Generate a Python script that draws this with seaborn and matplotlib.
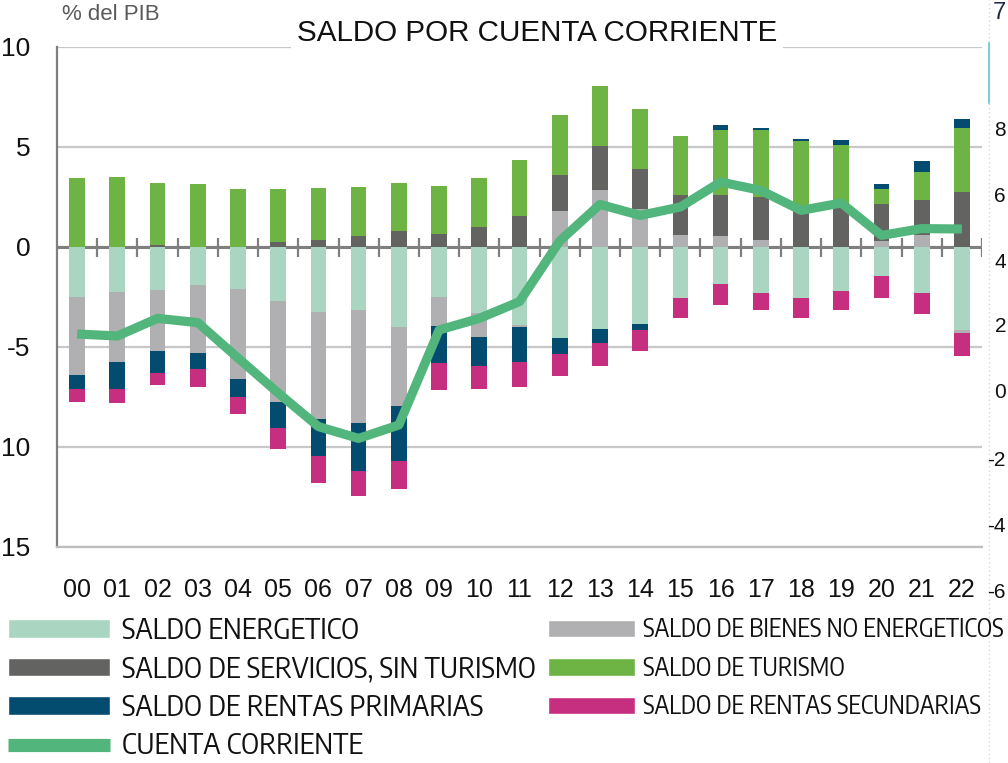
import numpy as np
import pandas as pd
import matplotlib
matplotlib.use("Agg")
import matplotlib.pyplot as plt
import seaborn as sns
from matplotlib.patches import Patch
from matplotlib.lines import Line2D
from matplotlib import font_manager as fm
from matplotlib.textpath import TextPath

# ---------------- data (% del PIB) ----------------
years = ['00', '01', '02', '03', '04', '05', '06', '07', '08', '09', '10', '11',
         '12', '13', '14', '15', '16', '17', '18', '19', '20', '21', '22']
saldo_energetico = [-2.5, -2.25, -2.15, -1.9, -2.1, -2.7, -3.27, -3.15, -4.02, -2.52, -3.32, -3.92,
                    -4.53, -4.1, -3.83, -2.53, -1.83, -2.28, -2.55, -2.2, -1.47, -2.28, -4.17]
saldo_bienes_no_energeticos = [-3.9, -3.5, -3.03, -3.42, -4.5, -5.03, -5.35, -5.63, -3.91, -1.42, -1.17, -0.1,
                               1.78, 2.87, 1.9, 0.58, 0.55, 0.33, 0.0, 0.0, 0.3, 0.6, -0.13]
saldo_servicios_sin_turismo = [0.0, 0.0, 0.1, 0.0, 0.0, 0.25, 0.37, 0.53, 0.78, 0.67, 1.0, 1.55,
                               1.84, 2.18, 2.02, 2.04, 2.07, 2.17, 2.0, 2.2, 1.87, 1.77, 2.75]
saldo_turismo = [3.45, 3.5, 3.1, 3.15, 2.9, 2.65, 2.58, 2.45, 2.4, 2.4, 2.45, 2.82,
                 3.0, 3.0, 3.0, 2.93, 3.21, 3.37, 3.28, 2.92, 0.75, 1.38, 3.22]
saldo_rentas_primarias = [-0.7, -1.35, -1.13, -0.8, -0.88, -1.33, -1.83, -2.42, -2.75, -1.88, -1.45, -1.73,
                          -0.8, -0.7, -0.34, 0.0, 0.25, 0.07, 0.14, 0.21, 0.25, 0.53, 0.41]
saldo_rentas_secundarias = [-0.66, -0.7, -0.58, -0.86, -0.87, -1.05, -1.33, -1.23, -1.42, -1.33, -1.17, -1.25,
                            -1.12, -1.15, -1.05, -1.0, -1.09, -0.85, -0.98, -0.97, -1.06, -1.05, -1.17]
cuenta_corriente = [-4.35, -4.45, -3.57, -3.78, -5.55, -7.3, -8.98, -9.57, -8.9, -4.15, -3.57, -2.73,
                    0.3, 2.13, 1.58, 2.0, 3.25, 2.83, 1.83, 2.2, 0.58, 0.92, 0.9]

y_ticks = [-15, -10, -5, 0, 5, 10]
y_ticklabels = ['15', '10', '-5', '0', '5', '10']

series_names = ['SALDO ENERGETICO', 'SALDO DE BIENES NO ENERGETICOS', 'SALDO DE SERVICIOS, SIN TURISMO',
                'SALDO DE TURISMO', 'SALDO DE RENTAS PRIMARIAS', 'SALDO DE RENTAS SECUNDARIAS']
series_vals = [saldo_energetico, saldo_bienes_no_energeticos, saldo_servicios_sin_turismo,
               saldo_turismo, saldo_rentas_primarias, saldo_rentas_secundarias]
colors = {
    'SALDO ENERGETICO': '#aad6c1',
    'SALDO DE BIENES NO ENERGETICOS': '#b0b0b2',
    'SALDO DE SERVICIOS, SIN TURISMO': '#636362',
    'SALDO DE TURISMO': '#6db444',
    'SALDO DE RENTAS PRIMARIAS': '#034c70',
    'SALDO DE RENTAS SECUNDARIAS': '#c62f7f',
}
cc_color = '#52b57c'

# ---------------- style ----------------
sns.set_theme(style="white")
plt.rcParams['font.family'] = ['Liberation Sans', 'DejaVu Sans']


def text_wh(fp, s='SALDO ENERGETICO'):
    ext = TextPath((0, 0), s, size=100, prop=fp).get_extents()
    return ext.width, ext.height


def pick_condensed_font(target_ratio=235.0 / 22.0):
    cands = []
    for f in fm.fontManager.ttflist:
        fn = f.fname.lower()
        nm = f.name.lower()
        if f.style != 'normal':
            continue
        if not ('condensed' in fn or 'narrow' in fn or 'condensed' in nm or 'narrow' in nm):
            continue
        rest = fn.replace('semicondensed', '').replace('extracondensed', '').replace('condensed', '')
        if any(b in rest for b in ('bold', 'black', 'light', 'thin', 'medium', 'italic', 'mono', 'serif', 'cjk')):
            continue
        if 'sans' not in nm and 'roboto' not in nm and 'lato' not in nm and 'inter' not in nm:
            continue
        cands.append(f.fname)
    cands = sorted(set(cands))[:40]
    best, best_err = None, None
    for fname in cands:
        try:
            fp = fm.FontProperties(fname=fname)
            wd, ht = text_wh(fp)
        except Exception:
            continue
        if ht <= 0:
            continue
        err = abs(wd / ht - target_ratio)
        if best_err is None or err < best_err:
            best, best_err = fp, err
    return best if best is not None else fm.FontProperties(family=['Liberation Sans'])


cond_base = pick_condensed_font()
PX = 100.0 / 72.0


def size_for(fp, s, width_px):
    wd, _ = text_wh(fp, s)
    return width_px / (wd / 100.0 * PX)


W, H = 1008, 763
fig = plt.figure(figsize=(W / 100, H / 100), dpi=100)
ax = fig.add_axes([57 / W, 1 - 547 / H, 925 / W, 500 / H])

df = pd.DataFrame({'year': years})
for n, v in zip(series_names, series_vals):
    df[n] = v
arr = df[series_names].to_numpy()
pos = np.clip(arr, 0, None)
neg = np.clip(arr, None, 0)
pos_cum = np.cumsum(pos, axis=1)
neg_cum = np.cumsum(neg, axis=1)

# stacked layers drawn from the outermost inwards
for k in range(len(series_names) - 1, -1, -1):
    name = series_names[k]
    hp = np.where(pos[:, k] > 0, pos_cum[:, k], 0.0)
    hn = np.where(neg[:, k] < 0, neg_cum[:, k], 0.0)
    for h in (hp, hn):
        sns.barplot(x=df['year'], y=h, color=colors[name], saturation=1, width=0.39,
                    linewidth=0, errorbar=None, ax=ax, zorder=3)

xpos = np.arange(len(years))
sns.lineplot(x=xpos, y=cuenta_corriente, color=cc_color, lw=6.6, ax=ax, zorder=5,
             solid_capstyle='butt', solid_joinstyle='round')

ax.set_xlim(-0.5, len(years) - 0.5)
ax.set_ylim(-15, 10)
ax.set_yticks(y_ticks)
ax.set_yticklabels(y_ticklabels, fontsize=19, color='#111111')
ax.set_xticks(xpos)
ax.set_xticklabels(years, fontsize=18, color='#111111')
ax.tick_params(axis='x', length=0, pad=22)
ax.tick_params(axis='y', length=0, pad=19)
ax.set_xlabel('')
ax.set_ylabel('')
ax.yaxis.grid(True, color='#c8c8c8', lw=1.6, zorder=0)
ax.set_axisbelow(True)
for s in ['top', 'right']:
    ax.spines[s].set_visible(False)
ax.spines['left'].set_color('#7f7f7f')
ax.spines['left'].set_linewidth(1.6)
ax.spines['bottom'].set_color('#bdbdbd')
ax.spines['bottom'].set_linewidth(1.6)

ax.axhline(0, color='#7f7f7f', lw=2.2, zorder=2)
ax.vlines(xpos + 0.5, -0.48, 0.45, color='#7f7f7f', lw=1.6, zorder=2)

# title & unit
fig.text(537 / W, 1 - 33 / H, 'SALDO POR CUENTA CORRIENTE', ha='center', va='center',
         fontsize=21.3, color='#111111',
         bbox=dict(boxstyle='square,pad=0.2', fc='white', ec='none'), zorder=10)
fig.text(62 / W, 1 - 15 / H, '% del PIB', ha='left', va='center', fontsize=16, color='#5a5a5a')

# ---------------- legends ----------------
fs1 = size_for(cond_base, 'SALDO ENERGETICO', 235.0)
fs2 = min(fs1, size_for(cond_base, 'SALDO DE BIENES NO ENERGETICOS', 360.0),
          size_for(cond_base, 'SALDO DE TURISMO', 200.0))
fp1 = cond_base.copy(); fp1.set_size(fs1)
fp2 = cond_base.copy(); fp2.set_size(fs2)

h1 = [Patch(facecolor=colors['SALDO ENERGETICO']),
      Patch(facecolor=colors['SALDO DE SERVICIOS, SIN TURISMO']),
      Patch(facecolor=colors['SALDO DE RENTAS PRIMARIAS']),
      Line2D([0], [0], color=cc_color, lw=9.5, solid_capstyle='butt')]
l1 = ['SALDO ENERGETICO', 'SALDO DE SERVICIOS, SIN TURISMO', 'SALDO DE RENTAS PRIMARIAS', 'CUENTA CORRIENTE']
h2 = [Patch(facecolor=colors['SALDO DE BIENES NO ENERGETICOS']),
      Patch(facecolor=colors['SALDO DE TURISMO']),
      Patch(facecolor=colors['SALDO DE RENTAS SECUNDARIAS'])]
l2 = ['SALDO DE BIENES NO ENERGETICOS', 'SALDO DE TURISMO', 'SALDO DE RENTAS SECUNDARIAS']

renderer = fig.canvas.get_renderer()


def build(handles, labels, x_px, fp, hl_px, pad_px, top_px, spacing):
    em = fp.get_size_in_points() * PX
    return fig.legend(handles, labels, loc='upper left', bbox_to_anchor=(x_px / W, 1 - top_px / H),
                      frameon=False, borderpad=0, borderaxespad=0, handleheight=17 / em,
                      handlelength=hl_px / em, handletextpad=pad_px / em, labelspacing=spacing,
                      prop=fp, labelcolor='#111111')


def fitted(handles, labels, x_px, fp, hl_px, pad_px, first_center=628.5, pitch=38.5):
    em = fp.get_size_in_points() * PX
    top, spacing = 612.0, 0.25
    for _ in range(2):
        leg = build(handles, labels, x_px, fp, hl_px, pad_px, top, spacing)
        leg.draw(renderer)
        hs = leg.legend_handles
        c0 = hs[0].get_window_extent(renderer)
        c1 = hs[1].get_window_extent(renderer)
        y0 = H - (c0.y0 + c0.y1) / 2
        y1 = H - (c1.y0 + c1.y1) / 2
        spacing = spacing + (pitch - (y1 - y0)) / em
        top = top + (first_center - y0)
        leg.remove()
    return build(handles, labels, x_px, fp, hl_px, pad_px, top, spacing)


fitted(h1, l1, 8, fp1, 102, 12)
fitted(h2, l2, 548, fp2, 87, 8)

# fragment of the neighbouring chart at the right edge
fig.add_artist(Line2D([989 / W, 989 / W], [0, 1], color='#d8d8d8', lw=1, ls=(0, (1, 2))))
fig.add_artist(Line2D([989 / W, 989 / W], [1 - 43 / H, 1 - 103 / H], color='#7fcbd6', lw=1.5))
fig.text(1006 / W, 1 - 13 / H, '7', ha='right', va='center', fontsize=17, color='#1f2a44')
for lab, yy in [('8', 130), ('6', 197), ('4', 262), ('2', 327), ('0', 392),
                ('-2', 460), ('-4', 527), ('-6', 593)]:
    fig.text(1006 / W, 1 - yy / H, lab, ha='right', va='center', fontsize=15, color='#111111')

fig.savefig('out.png', dpi=100)
